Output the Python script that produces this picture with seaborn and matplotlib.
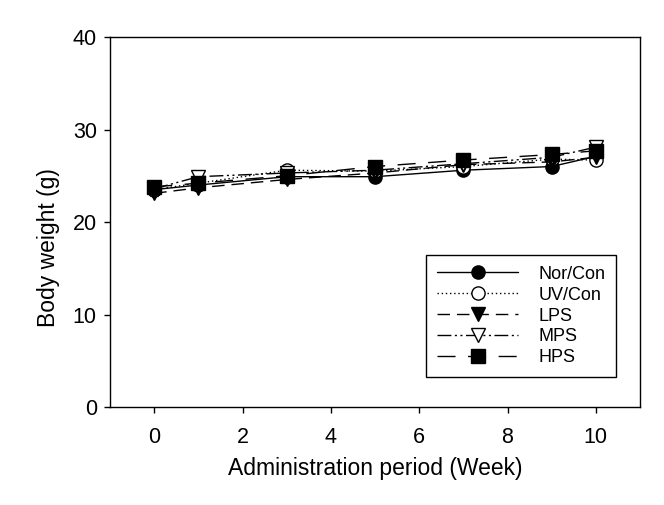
import matplotlib
matplotlib.use("Agg")
import matplotlib.pyplot as plt
import seaborn as sns
import pandas as pd

weeks = [0, 1, 3, 5, 7, 9, 10]
nor_con = [23.5, 24.0, 24.9, 24.9, 25.6, 26.0, 27.1]
uv_con = [23.5, 24.2, 25.6, 25.5, 26.0, 26.8, 26.7]
lps = [23.1, 23.7, 24.6, 25.3, 26.2, 26.5, 27.0]
mps = [23.6, 24.9, 25.3, 25.6, 26.3, 27.0, 28.1]
hps = [23.8, 24.2, 25.0, 26.0, 26.7, 27.3, 27.7]

series_names = ["Nor/Con", "UV/Con", "LPS", "MPS", "HPS"]
series_values = [nor_con, uv_con, lps, mps, hps]

sns.set_style("ticks")
plt.rcParams['font.family'] = ['Liberation Sans', 'DejaVu Sans']
plt.rcParams['text.color'] = 'black'
plt.rcParams['axes.labelcolor'] = 'black'

fig = plt.figure(figsize=(6.64, 5.05), dpi=100)
ax = fig.add_axes([0.1657, 0.194, 0.7982, 0.7327])

styles = {
    "Nor/Con": dict(marker='o', mfc='black', dashes=None),
    "UV/Con": dict(marker='o', mfc='white', dashes=(1, 2)),
    "LPS": dict(marker='v', mfc='black', dashes=(9, 5)),
    "MPS": dict(marker='v', mfc='white', dashes=(10, 2.5, 1.5, 2.5, 1.5, 2.5)),
    "HPS": dict(marker='s', mfc='black', dashes=(13, 9)),
}

for name, vals in zip(series_names, series_values):
    df = pd.DataFrame({"week": weeks, "weight": vals})
    st = styles[name]
    sns.lineplot(data=df, x="week", y="weight", ax=ax, color='black', lw=1.0,
                 marker=st['marker'], markersize=9.5, markerfacecolor=st['mfc'],
                 markeredgecolor='black', markeredgewidth=1.0, label=name)
    line = ax.get_lines()[-1]
    if st['dashes'] is not None:
        line.set_dashes(st['dashes'])

ax.set_xlim(-1, 11)
ax.set_ylim(0, 40)
ax.set_xticks([0, 2, 4, 6, 8, 10])
ax.set_yticks([0, 10, 20, 30, 40])
ax.tick_params(axis='both', direction='out', length=4.5, width=1, labelsize=15.5, colors='black')
ax.tick_params(axis='x', pad=10)
ax.tick_params(axis='y', pad=5)
for sp in ax.spines.values():
    sp.set_visible(True)
    sp.set_color('black')
    sp.set_linewidth(1.0)

ax.set_xlabel("Administration period (Week)", fontsize=16.5, color='black')
ax.set_ylabel("Body weight (g)", fontsize=16.5, color='black')
ax.xaxis.set_label_coords(0.5, -0.135)
ax.yaxis.set_label_coords(-0.095, 0.43)

leg = ax.legend(loc='lower right', bbox_to_anchor=(0.972, 0.056), fontsize=13,
                handlelength=4.5, frameon=True, fancybox=False, edgecolor='black',
                framealpha=1, borderpad=0.6, labelspacing=0.22, handletextpad=1.1)
leg.get_frame().set_linewidth(1.0)
for t in leg.get_texts():
    t.set_color('black')

fig.savefig("out.png", dpi=100, facecolor='white')
